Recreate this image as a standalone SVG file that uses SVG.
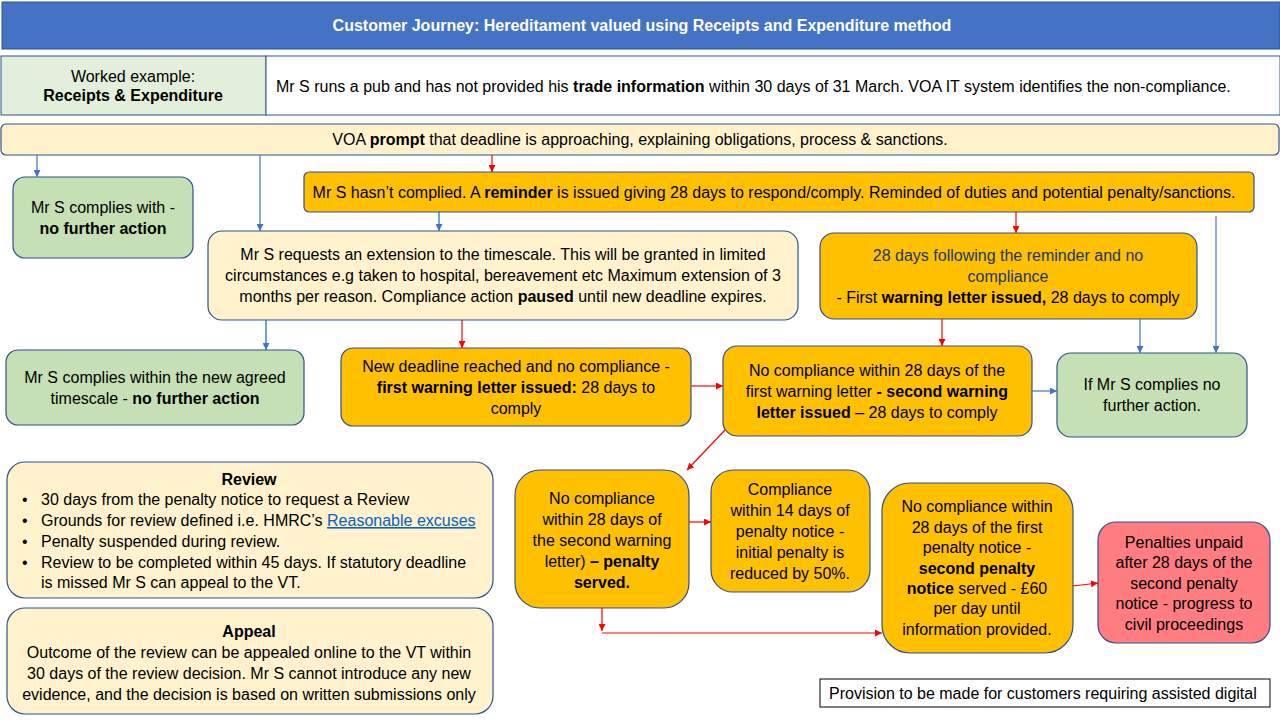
<svg xmlns="http://www.w3.org/2000/svg" width="1280" height="720" viewBox="0 0 1280 720">
<style>
text{font-family:"Liberation Sans",Arial,sans-serif;font-size:16px;fill:#000;transform:translateY(1px)}
.c{text-anchor:middle}
.b{font-weight:bold}
.nb{stroke:#2F528F;stroke-width:1.2}
.y{fill:#FFC000}
.p{fill:#FFF2CC}
.g{fill:#C5E0B4}
.r{fill:#FF7C80}
.bl{stroke:#4472C4;stroke-width:1.2;fill:none}
.rd{stroke:#FF0000;stroke-width:1.2;fill:none}
.nv{fill:#203864}
</style>
<defs>
<marker id="ab" viewBox="0 0 10 10" refX="10" refY="5" markerWidth="7" markerHeight="7" orient="auto" markerUnits="userSpaceOnUse"><path d="M0,0L10,5L0,10z" fill="#4472C4"/></marker>
<marker id="ar" viewBox="0 0 10 10" refX="10" refY="5" markerWidth="7" markerHeight="7" orient="auto" markerUnits="userSpaceOnUse"><path d="M0,0L10,5L0,10z" fill="#FF0000"/></marker>
</defs>
<rect width="1280" height="720" fill="#fff"/>

<g id="header">
<rect x="2" y="2" width="1278" height="47" fill="#4472C4" stroke="#2F528F"/>
<text class="c b" x="642" y="30" style="fill:#fff">Customer Journey: Hereditament valued using Receipts and Expenditure method</text>
</g>

<g id="worked-example">
<rect x="1" y="56" width="265" height="59" fill="#E2EFDA" stroke="#2F528F"/>
<text class="c" x="133" y="81">Worked example:</text>
<text class="c b" x="133" y="100">Receipts &amp; Expenditure</text>
</g>

<g id="scenario">
<rect x="266" y="56" width="1014" height="59" fill="#fff" stroke="#2F528F"/>
<text x="276" y="91">Mr S runs  a pub and has not provided his <tspan class="b">trade information</tspan> within 30 days of 31 March. VOA IT system identifies the non-compliance.</text>
</g>

<g id="prompt">
<rect class="p nb" x="1" y="124" width="1278" height="31" rx="5"/>
<text class="c" x="640" y="144">VOA <tspan class="b">prompt</tspan> that deadline is approaching, explaining obligations, process &amp; sanctions.</text>
</g>

<g id="reminder">
<rect class="y nb" x="304" y="172" width="950" height="40" rx="5"/>
<text class="c" x="774" y="197">Mr S hasn’t complied. A <tspan class="b">reminder</tspan> is issued giving 28 days to respond/comply.  Reminded of duties and potential penalty/sanctions.</text>
</g>

<g id="complies-1">
<rect class="g nb" x="13" y="177" width="180" height="81" rx="12"/>
<text class="c" x="103" y="212">Mr S complies with -</text>
<text class="c b" x="103" y="233">no further action</text>
</g>

<g id="extension">
<rect class="p nb" x="208" y="231" width="590" height="89" rx="14"/>
<text class="c" x="503" y="259">Mr S requests an extension to the timescale. This will be granted in limited</text>
<text class="c" x="503" y="280">circumstances e.g taken to hospital, bereavement etc  Maximum extension of 3</text>
<text class="c" x="503" y="301">months  per reason. Compliance action <tspan class="b">paused</tspan> until new deadline expires.</text>
</g>

<g id="first-warning-a">
<rect class="y nb" x="820" y="233" width="377" height="86" rx="14"/>
<text class="c nv" x="1008" y="260">28 days following the reminder and no</text>
<text class="c nv" x="1008" y="281">compliance</text>
<text class="c" x="1008" y="302">- First <tspan class="b">warning letter issued,</tspan> 28 days to comply</text>
</g>

<g id="complies-2">
<rect class="g nb" x="6" y="350" width="298" height="75" rx="12"/>
<text class="c" x="155" y="382">Mr S complies within the new agreed</text>
<text class="c" x="155" y="403">timescale - <tspan class="b">no further action</tspan></text>
</g>

<g id="first-warning-b">
<rect class="y nb" x="341" y="348" width="350" height="78" rx="12"/>
<text class="c" x="516" y="371">New deadline reached and no compliance -</text>
<text class="c" x="516" y="392"><tspan class="b">first warning letter issued:</tspan> 28 days to</text>
<text class="c" x="516" y="413">comply</text>
</g>

<g id="second-warning">
<rect class="y nb" x="723" y="346" width="309" height="90" rx="14"/>
<text class="c" x="877" y="375">No compliance within 28 days of the</text>
<text class="c" x="877" y="396">first warning letter <tspan class="b">- second warning</tspan></text>
<text class="c" x="877" y="417"><tspan class="b">letter issued</tspan> – 28 days to comply</text>
</g>

<g id="complies-3">
<rect class="g nb" x="1057" y="353" width="190" height="84" rx="14"/>
<text class="c" x="1152" y="389">If Mr S complies no</text>
<text class="c" x="1152" y="410">further  action.</text>
</g>

<g id="penalty-served">
<rect class="y nb" x="515" y="470" width="174" height="138" rx="25"/>
<text class="c" x="602" y="503">No compliance</text>
<text class="c" x="602" y="524">within 28 days of</text>
<text class="c" x="602" y="545">the second warning</text>
<text class="c" x="602" y="566">letter) <tspan class="b">– penalty</tspan></text>
<text class="c b" x="602" y="587">served.</text>
</g>

<g id="reduced">
<rect class="y nb" x="711" y="470" width="159" height="122" rx="22"/>
<text class="c" x="790" y="494">Compliance</text>
<text class="c" x="790" y="515">within 14 days of</text>
<text class="c" x="790" y="536">penalty notice -</text>
<text class="c" x="790" y="557">initial penalty is</text>
<text class="c" x="790" y="578">reduced by 50%.</text>
</g>

<g id="second-penalty">
<rect class="y nb" x="882" y="483" width="191" height="170" rx="28"/>
<text class="c" x="977" y="511">No compliance within</text>
<text class="c" x="977" y="532">28 days of the first</text>
<text class="c" x="977" y="552">penalty notice -</text>
<text class="c b" x="977" y="573">second penalty</text>
<text class="c" x="977" y="593"><tspan class="b">notice</tspan> served - £60</text>
<text class="c" x="977" y="613">per day until</text>
<text class="c" x="977" y="634">information provided.</text>
</g>

<g id="civil">
<rect class="r nb" x="1098" y="522" width="172" height="121" rx="18"/>
<text class="c" x="1184" y="547">Penalties unpaid</text>
<text class="c" x="1184" y="567">after 28 days of the</text>
<text class="c" x="1184" y="588">second penalty</text>
<text class="c" x="1184" y="608">notice - progress to</text>
<text class="c" x="1184" y="629">civil proceedings</text>
</g>

<g id="review">
<rect class="p nb" x="7" y="462" width="486" height="136" rx="18"/>
<text class="c b" x="249" y="484">Review</text>
<text x="22" y="504">•</text><text x="41" y="504">30 days from the penalty notice to request a Review</text>
<text x="22" y="525">•</text><text x="41" y="525">Grounds for review defined i.e. HMRC’s <tspan style="fill:#0563C1;text-decoration:underline">Reasonable excuses</tspan></text>
<text x="22" y="546">•</text><text x="41" y="546">Penalty suspended during review.</text>
<text x="22" y="567">•</text><text x="41" y="567">Review to be completed within 45 days. If statutory deadline</text>
<text x="41" y="587">is missed Mr S can appeal to the VT.</text>
</g>

<g id="appeal">
<rect class="p nb" x="7" y="608" width="486" height="106" rx="18"/>
<text class="c b" x="249" y="636">Appeal</text>
<text class="c" x="249" y="657">Outcome of the review can be appealed online to the VT within</text>
<text class="c" x="249" y="678">30 days of the review decision. Mr S cannot introduce any new</text>
<text class="c" x="249" y="699">evidence, and the decision is based on written submissions only</text>
</g>

<g id="provision">
<rect x="820" y="679" width="450" height="28" fill="#fff" stroke="#000"/>
<text x="829" y="698">Provision to be made for customers requiring assisted digital</text>
</g>

<g id="connectors">
<line class="bl" x1="37" y1="155" x2="37" y2="177" marker-end="url(#ab)"/>
<line class="bl" x1="260" y1="155" x2="260" y2="231" marker-end="url(#ab)"/>
<line class="rd" x1="492" y1="155" x2="492" y2="172" marker-end="url(#ar)"/>
<line class="bl" x1="439" y1="212" x2="439" y2="231" marker-end="url(#ab)" style="stroke:#0070C0"/>
<line class="rd" x1="1016" y1="212" x2="1016" y2="233" marker-end="url(#ar)"/>
<line class="bl" x1="1216" y1="216" x2="1216" y2="353" marker-end="url(#ab)"/>
<line class="bl" x1="266" y1="320" x2="266" y2="350" marker-end="url(#ab)" style="stroke:#0070C0"/>
<line class="rd" x1="462" y1="320" x2="462" y2="348" marker-end="url(#ar)"/>
<line class="rd" x1="942" y1="319" x2="942" y2="346" marker-end="url(#ar)"/>
<line class="bl" x1="1140" y1="319" x2="1140" y2="353" marker-end="url(#ab)"/>
<line class="rd" x1="691" y1="386" x2="723" y2="386" marker-end="url(#ar)"/>
<line class="bl" x1="1032" y1="391" x2="1057" y2="391" marker-end="url(#ab)"/>
<line class="rd" x1="725" y1="430" x2="687" y2="470" marker-end="url(#ar)"/>
<line class="rd" x1="689" y1="522" x2="711" y2="522" marker-end="url(#ar)"/>
<line class="rd" x1="602" y1="608" x2="602" y2="631" marker-end="url(#ar)"/>
<line class="rd" x1="602" y1="633" x2="882" y2="633" marker-end="url(#ar)"/>
<line class="rd" x1="1073" y1="586" x2="1098" y2="583" marker-end="url(#ar)"/>
</g>
</svg>
